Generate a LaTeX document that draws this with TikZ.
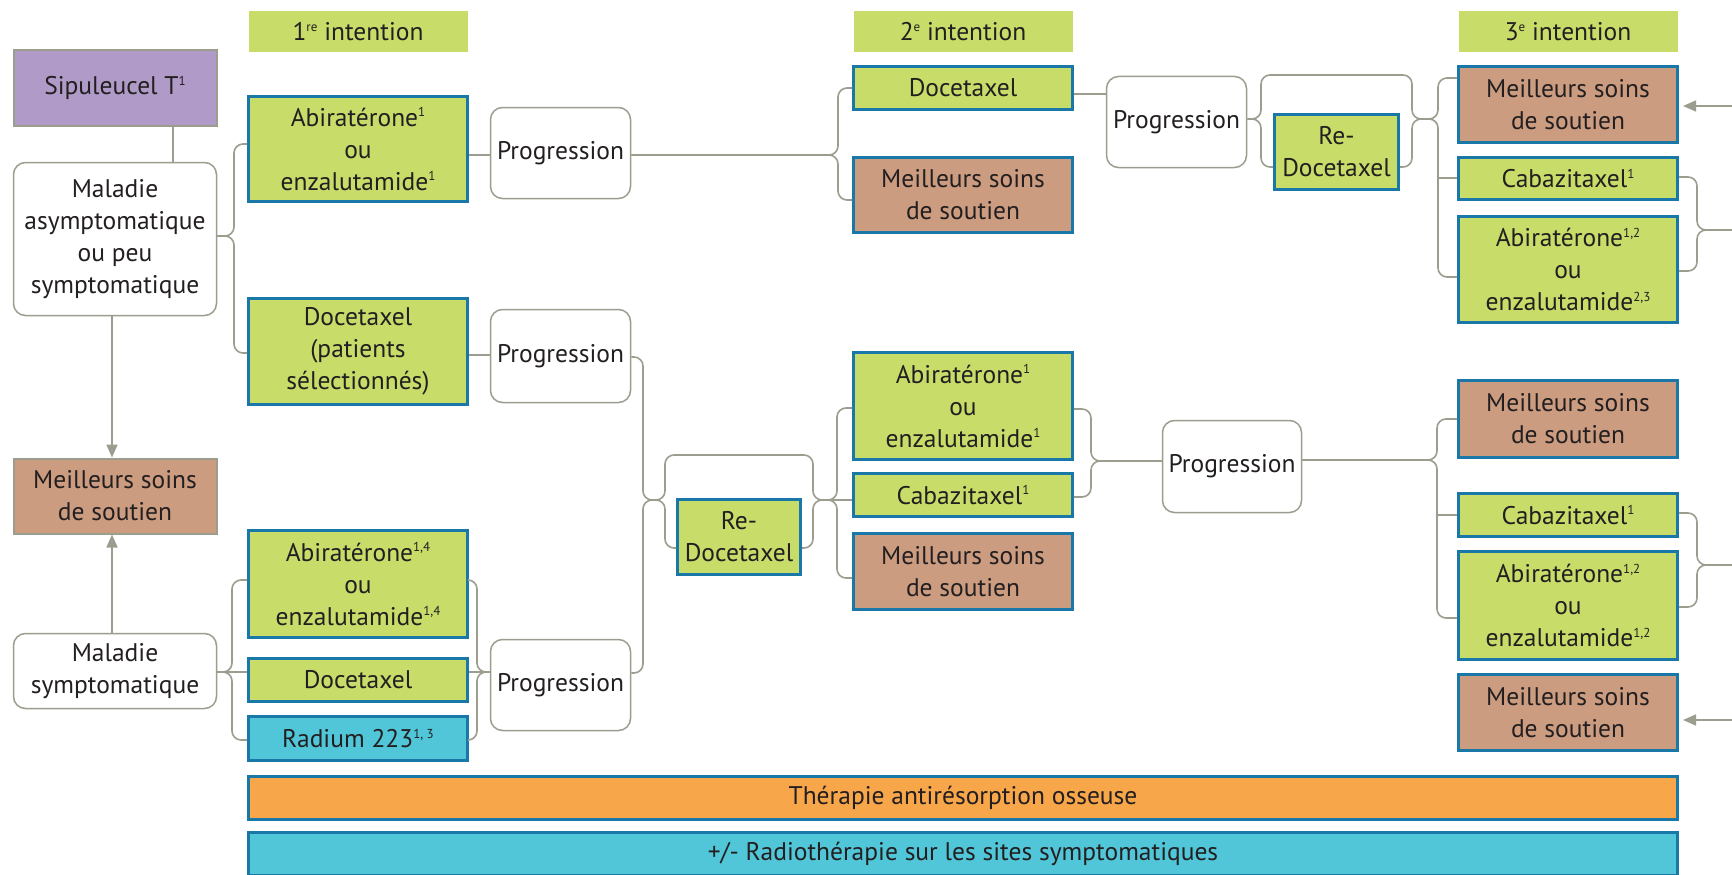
\documentclass[tikz,border=0pt]{standalone}
\usepackage{fontspec}
\setmainfont{PT Sans}
\usetikzlibrary{arrows.meta}
\definecolor{gr}{HTML}{C8DC6A}
\definecolor{bl}{HTML}{1A78A8}
\definecolor{br}{HTML}{CC9C80}
\definecolor{pu}{HTML}{AF9AC8}
\definecolor{orr}{HTML}{F8A64A}
\definecolor{cy}{HTML}{50C6D8}
\definecolor{ln}{HTML}{9D9D8F}
\definecolor{txt}{HTML}{231F20}
\newcommand\spx[1]{\raisebox{0.36em}{\fontsize{13}{13}\selectfont #1}}
\newcommand\bx[7]{%
  \node[#2, minimum width={#5-#3-6}, minimum height={#6-#4-6}] (#1) at ({(#3+#5-3)/2},{(#4+#6-3)/2}) {#7};}
\begin{document}
\begin{tikzpicture}[x=1pt,y=-1pt,
  every node/.style={font=\fontsize{25.5}{32}\selectfont, text=txt, align=center, inner sep=0pt},
  gbox/.style={draw=bl, line width=3pt, fill=gr},
  bbox/.style={draw=bl, line width=3pt, fill=br},
  cbox/.style={draw=bl, line width=3pt, fill=cy},
  obox/.style={draw=bl, line width=3pt, fill=orr},
  head/.style={fill=gr},
  pbox/.style={draw=ln, line width=2pt, fill=pu},
  lbbox/.style={draw=ln, line width=2pt, fill=br},
  rbox/.style={draw=ln, line width=1.5pt, fill=white, rounded corners=12pt},
  conn/.style={draw=ln, line width=1.6pt, rounded corners=9pt},
  arr/.style={-{Triangle[length=13pt,width=11pt]}}]
\useasboundingbox (0,0) rectangle (1732,875);
\fill[white] (0,0) rectangle (1732,875);
% headers
\bx{h1}{head}{247}{10}{472}{57}{1\spx{re} intention}
\bx{h2}{head}{852}{10}{1077}{57}{2\spx{e} intention}
\bx{h3}{head}{1457}{10}{1682}{57}{3\spx{e} intention}
% left column
\bx{sip}{pbox}{12}{49}{221}{130}{Sipuleucel T\spx{1}}
\bx{asym}{rbox}{12}{161}{221}{320}{Maladie\\asymptomatique\\ou peu\\symptomatique}
\bx{bsc0}{lbbox}{12}{457}{221}{538}{Meilleurs soins\\de soutien}
\bx{sym}{rbox}{12}{632}{221}{713}{Maladie\\symptomatique}
% column 1
\bx{a1}{gbox}{247}{95}{472}{206}{Abiratérone\spx{1}\\ou\\enzalutamide\spx{1}}
\bx{d1}{gbox}{247}{297}{472}{409}{Docetaxel\\(patients\\sélectionnés)}
\bx{a2}{gbox}{247}{529}{472}{642}{Abiratérone\spx{1,4}\\ou\\enzalutamide\spx{1,4}}
\bx{d2}{gbox}{247}{657}{472}{706}{Docetaxel}
\bx{r1}{cbox}{247}{715}{472}{765}{Radium 223\spx{1, 3}}
% progression column
\bx{p1}{rbox}{489}{106}{635}{203}{Progression}
\bx{p2}{rbox}{489}{308}{635}{407}{Progression}
\bx{p3}{rbox}{489}{638}{635}{735}{Progression}
\bx{rd2}{gbox}{676}{498}{805}{579}{Re-\\Docetaxel}
% column 2
\bx{d3}{gbox}{852}{65}{1077}{114}{Docetaxel}
\bx{b1}{bbox}{852}{156}{1077}{237}{Meilleurs soins\\de soutien}
\bx{a3}{gbox}{852}{351}{1077}{464}{Abiratérone\spx{1}\\ou\\enzalutamide\spx{1}}
\bx{c1}{gbox}{852}{472}{1077}{521}{Cabazitaxel\spx{1}}
\bx{b2}{bbox}{852}{532}{1077}{614}{Meilleurs soins\\de soutien}
\bx{tp}{rbox}{1105}{75}{1251}{172}{Progression}
\bx{rd1}{gbox}{1273}{113}{1403}{194}{Re-\\Docetaxel}
\bx{pm}{rbox}{1161}{419}{1306}{517}{Progression}
% column 3
\bx{b3}{bbox}{1457}{65}{1682}{147}{Meilleurs soins\\de soutien}
\bx{c2}{gbox}{1457}{156}{1682}{204}{Cabazitaxel\spx{1}}
\bx{a4}{gbox}{1457}{215}{1682}{327}{Abiratérone\spx{1,2}\\ou\\enzalutamide\spx{2,3}}
\bx{b4}{bbox}{1457}{379}{1682}{462}{Meilleurs soins\\de soutien}
\bx{c3}{gbox}{1457}{492}{1682}{541}{Cabazitaxel\spx{1}}
\bx{a5}{gbox}{1457}{550}{1682}{664}{Abiratérone\spx{1,2}\\ou\\enzalutamide\spx{1,2}}
\bx{b5}{bbox}{1457}{673}{1682}{755}{Meilleurs soins\\de soutien}
% bars
\bx{bar1}{obox}{247}{775}{1682}{824}{Thérapie antirésorption osseuse}
\bx{bar2}{cbox}{247}{831}{1682}{880}{+/- Radiothérapie sur les sites symptomatiques}
% junctions
\coordinate (J1) at (1425,119);
\coordinate (J2) at (654,500);
\coordinate (J3) at (823,500);
\coordinate (J4) at (1102,461);
\coordinate (t1) at (1438,178);
\coordinate (t2) at (1437,515);
\coordinate (e1) at (1732,230);
\coordinate (e2) at (1732,106);
\coordinate (e3) at (1732,565);
\coordinate (e4) at (1732,720);
% left connectors
\draw[conn] (sip.south -| 173,0) -- (asym.north -| 173,0);
\draw[conn,arr] (asym.south -| 112,0) -- (bsc0.north -| 112,0);
\draw[conn,arr] (sym.north -| 112,0) -- (bsc0.south -| 112,0);
\draw[conn] (asym.east |- 0,236) -- (234,236) -- (234,144) -- (a1.west |- 0,144);
\draw[conn] (asym.east |- 0,236) -- (234,236) -- (234,353) -- (d1.west |- 0,353);
\draw[conn] (a1.east |- 0,155) -- (p1.west |- 0,155);
\draw[conn] (d1.east |- 0,355) -- (p2.west |- 0,355);
% top branch
\draw[conn] (p1.east |- 0,155) -- (838,155) -- (838,88) -- (d3.west |- 0,88);
\draw[conn] (p1.east |- 0,155) -- (838,155) -- (838,200) -- (b1.west |- 0,200);
\draw[conn] (d3.east |- 0,94) -- (tp.west |- 0,94);
\draw[conn] (tp.east |- 0,119) -- (1261,119) -- (1261,75) -- (1412,75) -- (1412,119) -- (J1);
\draw[conn] (tp.east |- 0,119) -- (1261,119) -- (1261,167) -- (rd1.west |- 0,167);
\draw[conn] (rd1.east |- 0,167) -- (1412,167) -- (1412,119) -- (J1);
\draw[conn] (J1) -- (1438,119) -- (1438,78) -- (b3.west |- 0,78);
\draw[conn] (J1) -- (1438,119) -- (1438,277) -- (a4.west |- 0,277);
\draw[conn] (t1) -- (c2.west |- 0,178);
\draw[conn] (c2.east |- 0,177) -- (1697,177) -- (1697,230) -- (e1);
\draw[conn] (a4.east |- 0,271) -- (1697,271) -- (1697,230) -- (e1);
\draw[conn,arr,shorten >=4pt] (e2) -- (b3.east |- 0,106);
% middle branch
\draw[conn] (p2.east |- 0,357) -- (643,357) -- (643,500) -- (J2);
\draw[conn] (p3.east |- 0,673) -- (643,673) -- (643,500) -- (J2);
\draw[conn] (J2) -- (665,500) -- (665,455) -- (813,455) -- (813,500) -- (J3);
\draw[conn] (J2) -- (665,500) -- (665,548) -- (rd2.west |- 0,548);
\draw[conn] (rd2.east |- 0,548) -- (813,548) -- (813,500) -- (J3);
\draw[conn] (J3) -- (837,500) -- (837,408) -- (a3.west |- 0,408);
\draw[conn] (J3) -- (837,500) -- (837,578) -- (b2.west |- 0,578);
\draw[conn] (J3) -- (c1.west |- 0,500);
\draw[conn] (a3.east |- 0,409) -- (1091,409) -- (1091,461) -- (J4);
\draw[conn] (c1.east |- 0,497) -- (1091,497) -- (1091,461) -- (J4);
\draw[conn] (J4) -- (pm.west |- 0,461);
\draw[conn] (pm.east |- 0,460) -- (1437,460) -- (1437,419) -- (b4.west |- 0,419);
\draw[conn] (pm.east |- 0,460) -- (1437,460) -- (1437,618) -- (a5.west |- 0,618);
\draw[conn] (t2) -- (c3.west |- 0,515);
\draw[conn] (c3.east |- 0,513) -- (1697,513) -- (1697,565) -- (e3);
\draw[conn] (a5.east |- 0,607) -- (1697,607) -- (1697,565) -- (e3);
\draw[conn,arr,shorten >=4pt] (e4) -- (b5.east |- 0,720);
% bottom branch
\draw[conn] (sym.east |- 0,672) -- (232,672) -- (232,580) -- (a2.west |- 0,580);
\draw[conn] (sym.east |- 0,672) -- (232,672) -- (232,740) -- (r1.west |- 0,740);
\draw[conn] (sym.east |- 0,672) -- (d2.west |- 0,672);
\draw[conn] (a2.east |- 0,580) -- (477,580) -- (477,672) -- (p3.west |- 0,672);
\draw[conn] (r1.east |- 0,740) -- (477,740) -- (477,672) -- (p3.west |- 0,672);
\draw[conn] (d2.east |- 0,672) -- (p3.west |- 0,672);
\end{tikzpicture}
\end{document}
